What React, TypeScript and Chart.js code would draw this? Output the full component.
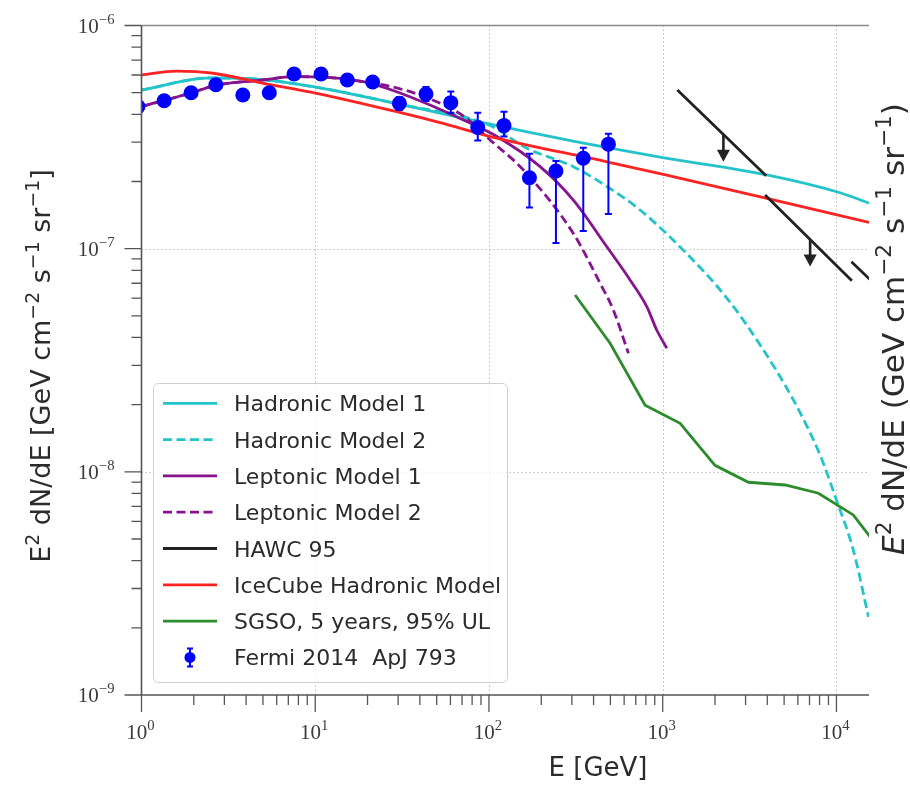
import { useEffect, useRef } from 'react';
import { Chart, registerables } from 'chart.js';

Chart.register(...registerables);

// Energies in GeV, fluxes as E^2 dN/dE in GeV cm^-2 s^-1 sr^-1

const hadronic1E = [1, 2.5, 4, 10, 30, 100, 300, 1000, 3970, 10500, 15400];
const hadronic1Flux = [5.14e-7, 5.82e-7, 5.79e-7, 5.3e-7, 4.45e-7, 3.62e-7, 3.04e-7, 2.56e-7, 2.14e-7, 1.78e-7, 1.6e-7];

const hadronic2E = [1, 2.5, 4, 10, 30, 100, 165, 306, 477, 741, 1310, 2340, 3640, 5650, 8050, 10000, 12500, 15300];
const hadronic2Flux = [5.14e-7, 5.82e-7, 5.79e-7, 5.3e-7, 4.45e-7, 3.58e-7, 2.82e-7, 2.33e-7, 1.9e-7, 1.49e-7, 9.87e-8, 6.01e-8, 3.7e-8, 2.1e-8, 1.19e-8, 7.48e-9, 4.47e-9, 2.24e-9];

const leptonic1E = [1, 1.9, 2.71, 5.03, 7.48, 12.2, 18.9, 29.4, 45.8, 71.2, 111, 197, 306, 477, 649, 810, 924, 1056];
const leptonic1Flux = [4.33e-7, 4.97e-7, 5.41e-7, 5.7e-7, 5.9e-7, 5.84e-7, 5.6e-7, 5.05e-7, 4.4e-7, 3.77e-7, 3.18e-7, 2.33e-7, 1.65e-7, 1.02e-7, 7.24e-8, 5.5e-8, 4.32e-8, 3.58e-8];

const leptonic2E = [1, 1.9, 2.71, 5.03, 7.48, 12.2, 18.9, 29.4, 45.8, 71.2, 101.5, 158, 306, 436, 520, 635];
const leptonic2Flux = [4.33e-7, 4.97e-7, 5.41e-7, 5.7e-7, 5.9e-7, 5.84e-7, 5.6e-7, 5.25e-7, 4.69e-7, 3.93e-7, 3.07e-7, 2.25e-7, 1.17e-7, 7.0e-8, 5.31e-8, 3.4e-8];

// HAWC limit segments; a null flux breaks the line between segments
const hawcE = [1215, 3938, 3900, 3886, 12270, 12250, 12200, 17850];
const hawcFlux = [5.14e-7, 2.12e-7, null, 1.74e-7, 7.19e-8, null, 8.74e-8, 6.57e-8];
const hawcUlE = [2236, 7058];
const hawcUlFrom = [3.27e-7, 1.1e-7];
const hawcUlTo = [2.45e-7, 8.31e-8];

const iceCubeE = [1, 1.59, 2.59, 5.03, 10.2, 29.4, 52.3, 101.5, 477, 1009, 3975, 15400];
const iceCubeFlux = [6.0e-7, 6.25e-7, 6.11e-7, 5.51e-7, 4.97e-7, 4.11e-7, 3.67e-7, 3.18e-7, 2.45e-7, 2.15e-7, 1.68e-7, 1.31e-7];

const sgsoE = [313, 498, 792, 1260, 2000, 3115, 5067, 7878, 12500, 15600];
const sgsoFlux = [6.2e-8, 3.77e-8, 1.99e-8, 1.65e-8, 1.07e-8, 8.98e-9, 8.73e-9, 8.02e-9, 6.41e-9, 5.13e-9];

const fermiE = [0.955, 1.35, 1.93, 2.68, 3.83, 5.44, 7.55, 10.8, 15.3, 21.4, 30.5, 43.4, 60.3, 86.2, 122, 171, 243, 349, 487];
const fermiFlux = [4.33e-7, 4.6e-7, 5.0e-7, 5.43e-7, 4.88e-7, 5.0e-7, 6.06e-7, 6.06e-7, 5.7e-7, 5.58e-7, 4.48e-7, 4.93e-7, 4.51e-7, 3.49e-7, 3.56e-7, 2.08e-7, 2.23e-7, 2.54e-7, 2.94e-7];
const fermiLow = [4.2e-7, 4.48e-7, 4.86e-7, 5.27e-7, 4.72e-7, 4.82e-7, 5.84e-7, 5.82e-7, 5.44e-7, 5.28e-7, 4.18e-7, 4.59e-7, 4.06e-7, 3.05e-7, 3.18e-7, 1.53e-7, 1.06e-7, 1.2e-7, 1.43e-7];
const fermiHigh = [4.46e-7, 4.72e-7, 5.14e-7, 5.59e-7, 5.04e-7, 5.18e-7, 6.28e-7, 6.3e-7, 5.96e-7, 5.88e-7, 4.78e-7, 5.3e-7, 5.06e-7, 4.06e-7, 4.11e-7, 2.66e-7, 2.47e-7, 2.83e-7, 3.27e-7];

const xDecades = [1, 10, 100, 1000, 10000];
const xTickExponents = ['0', '1', '2', '3', '4'];
const yDecades = [1e-9, 1e-8, 1e-7, 1e-6];
const yTickExponents = ['−9', '−8', '−7', '−6'];

const X_MIN = 1;
const X_MAX = 15400;

const SANS = '"DejaVu Sans", "Noto Sans", sans-serif';
const SERIF = '"Liberation Serif", "DejaVu Serif", serif';

const CYAN = '#22c4c9';
const PURPLE = '#87138f';
const BLACK = '#222222';
const RED = '#ff2222';
const GREEN = '#2a8c2a';
const BLUE = '#0000ff';

type Seg = { t: string; sup?: boolean; it?: boolean };

function segFont(seg: Seg, size: number, family: string) {
  const s = seg.sup ? size * 0.7 : size;
  return `${seg.it ? 'italic ' : ''}${s}px ${family}`;
}

function drawRich(ctx: CanvasRenderingContext2D, segs: Seg[], x: number, y: number, size: number, family: string, align: 'left' | 'center' | 'right') {
  let w = 0;
  for (const s of segs) {
    ctx.font = segFont(s, size, family);
    w += ctx.measureText(s.t).width;
  }
  let cx = align === 'center' ? x - w / 2 : align === 'right' ? x - w : x;
  ctx.textAlign = 'left';
  ctx.textBaseline = 'alphabetic';
  for (const s of segs) {
    ctx.font = segFont(s, size, family);
    ctx.fillText(s.t, cx, s.sup ? y - size * 0.42 : y);
    cx += ctx.measureText(s.t).width;
  }
}

function pts(xs: number[], ys: (number | null)[]) {
  return xs.map((x, i) => ({ x, y: ys[i] }));
}

const gridPlugin = {
  id: 'logGrid',
  beforeDatasetsDraw(chart: any) {
    const { ctx, chartArea: a } = chart;
    const xs = chart.scales.x;
    const ys = chart.scales.y;
    ctx.save();
    ctx.strokeStyle = '#bdbdbd';
    ctx.lineWidth = 1;
    ctx.setLineDash([1.5, 2.5]);
    ctx.beginPath();
    xDecades.forEach((d) => {
      const p = Math.round(xs.getPixelForValue(d)) + 0.5;
      if (p > a.left + 2 && p < a.right - 1) {
        ctx.moveTo(p, a.top);
        ctx.lineTo(p, a.bottom);
      }
    });
    yDecades.forEach((d) => {
      const p = Math.round(ys.getPixelForValue(d)) + 0.5;
      if (p > a.top + 2 && p < a.bottom - 2) {
        ctx.moveTo(a.left, p);
        ctx.lineTo(a.right, p);
      }
    });
    ctx.stroke();
    ctx.restore();
  },
};

const errorBarPlugin = {
  id: 'fermiErrorBars',
  beforeDatasetDraw(chart: any, args: any) {
    const ds = chart.data.datasets[args.index];
    if (ds.label !== 'Fermi 2014  ApJ 793') return;
    const { ctx, chartArea: a } = chart;
    const xs = chart.scales.x;
    const ys = chart.scales.y;
    ctx.save();
    ctx.beginPath();
    ctx.rect(a.left, a.top, a.right - a.left, a.bottom - a.top);
    ctx.clip();
    ctx.strokeStyle = BLUE;
    ctx.lineWidth = 2;
    fermiE.forEach((e, i) => {
      const px = xs.getPixelForValue(e);
      const pLo = ys.getPixelForValue(fermiLow[i]);
      const pHi = ys.getPixelForValue(fermiHigh[i]);
      ctx.beginPath();
      ctx.moveTo(px, pLo);
      ctx.lineTo(px, pHi);
      ctx.moveTo(px - 3.5, pLo);
      ctx.lineTo(px + 3.5, pLo);
      ctx.moveTo(px - 3.5, pHi);
      ctx.lineTo(px + 3.5, pHi);
      ctx.stroke();
    });
    ctx.restore();
  },
};

const arrowPlugin = {
  id: 'hawcArrows',
  afterDatasetsDraw(chart: any) {
    const { ctx } = chart;
    const xs = chart.scales.x;
    const ys = chart.scales.y;
    ctx.save();
    ctx.strokeStyle = BLACK;
    ctx.fillStyle = BLACK;
    ctx.lineWidth = 2.6;
    hawcUlE.forEach((e, i) => {
      const px = xs.getPixelForValue(e);
      const p0 = ys.getPixelForValue(hawcUlFrom[i]);
      const p1 = ys.getPixelForValue(hawcUlTo[i]);
      ctx.beginPath();
      ctx.moveTo(px, p0);
      ctx.lineTo(px, p1 - 6);
      ctx.stroke();
      ctx.beginPath();
      ctx.moveTo(px - 6.5, p1 - 12);
      ctx.lineTo(px + 6.5, p1 - 12);
      ctx.lineTo(px, p1);
      ctx.closePath();
      ctx.fill();
    });
    ctx.restore();
  },
};

const axesPlugin = {
  id: 'logAxes',
  afterDatasetsDraw(chart: any) {
    const { ctx, chartArea: a } = chart;
    const xs = chart.scales.x;
    const ys = chart.scales.y;
    ctx.save();
    // spines
    ctx.lineCap = 'butt';
    ctx.strokeStyle = '#8a8a8a';
    ctx.lineWidth = 1.6;
    ctx.beginPath();
    ctx.moveTo(a.left, a.top);
    ctx.lineTo(a.right, a.top);
    ctx.stroke();
    ctx.strokeStyle = '#555555';
    ctx.beginPath();
    ctx.moveTo(a.left, a.top);
    ctx.lineTo(a.left, a.bottom);
    ctx.lineTo(a.right, a.bottom);
    ctx.stroke();

    // ticks
    ctx.strokeStyle = '#555555';
    ctx.lineWidth = 1.3;
    ctx.beginPath();
    xDecades.forEach((d) => {
      const p = xs.getPixelForValue(d);
      ctx.moveTo(p, a.bottom);
      ctx.lineTo(p, a.bottom + 17);
      for (let k = 2; k <= 9; k++) {
        const v = k * d;
        if (v > X_MAX) break;
        const q = xs.getPixelForValue(v);
        ctx.moveTo(q, a.bottom);
        ctx.lineTo(q, a.bottom + 10);
      }
    });
    yDecades.forEach((d, idx) => {
      const p = ys.getPixelForValue(d);
      ctx.moveTo(a.left, p);
      ctx.lineTo(a.left - 17, p);
      if (idx < yDecades.length - 1) {
        for (let k = 2; k <= 9; k++) {
          const q = ys.getPixelForValue(k * d);
          ctx.moveTo(a.left, q);
          ctx.lineTo(a.left - 10, q);
        }
      }
    });
    ctx.stroke();

    // tick labels
    ctx.fillStyle = '#3a3a3a';
    xDecades.forEach((d, i) => {
      const p = xs.getPixelForValue(d);
      drawRich(ctx, [{ t: '10' }, { t: xTickExponents[i], sup: true }], p - 1, a.bottom + 44, 21, SERIF, 'center');
    });
    yDecades.forEach((d, i) => {
      const p = ys.getPixelForValue(d);
      drawRich(ctx, [{ t: '10' }, { t: yTickExponents[i], sup: true }], a.left - 27, p + 7, 21, SERIF, 'right');
    });

    // axis titles
    ctx.fillStyle = '#2b2b2b';
    drawRich(ctx, [{ t: 'E [GeV]' }], 598, 776, 26, SANS, 'center');

    ctx.save();
    ctx.translate(50, 366);
    ctx.rotate(-Math.PI / 2);
    drawRich(
      ctx,
      [
        { t: 'E' }, { t: '2', sup: true }, { t: ' dN/dE [GeV cm' }, { t: '−2', sup: true },
        { t: ' s' }, { t: '−1', sup: true }, { t: ' sr' }, { t: '−1', sup: true }, { t: ']' },
      ],
      0, 0, 27, SANS, 'center',
    );
    ctx.restore();

    ctx.save();
    ctx.translate(904, 329);
    ctx.rotate(-Math.PI / 2);
    drawRich(
      ctx,
      [
        { t: 'E', it: true }, { t: '2', sup: true }, { t: ' dN/dE (GeV cm' }, { t: '−2', sup: true },
        { t: ' s' }, { t: '−1', sup: true }, { t: ' sr' }, { t: '−1', sup: true }, { t: ')' },
      ],
      0, 0, 31, SANS, 'center',
    );
    ctx.restore();
    ctx.restore();
  },
};

const legendPlugin = {
  id: 'boxLegend',
  afterDraw(chart: any) {
    const { ctx } = chart;
    const left = 153.5;
    const top = 383.5;
    const w = 354;
    const h = 299;
    ctx.save();
    ctx.beginPath();
    ctx.roundRect(left, top, w, h, 5);
    ctx.fillStyle = 'rgba(255,255,255,0.82)';
    ctx.fill();
    ctx.strokeStyle = '#cfcfcf';
    ctx.lineWidth = 1;
    ctx.stroke();

    const rowStep = 36.3;
    chart.data.datasets.forEach((ds: any, i: number) => {
      const cy = 403.3 + i * rowStep;
      if (ds.showLine === false) {
        ctx.strokeStyle = ds.pointBackgroundColor;
        ctx.lineWidth = 2;
        ctx.setLineDash([]);
        ctx.beginPath();
        ctx.moveTo(190, cy - 9);
        ctx.lineTo(190, cy + 9);
        ctx.moveTo(187, cy - 9);
        ctx.lineTo(193, cy - 9);
        ctx.moveTo(187, cy + 9);
        ctx.lineTo(193, cy + 9);
        ctx.stroke();
        ctx.fillStyle = ds.pointBackgroundColor;
        ctx.beginPath();
        ctx.arc(190, cy, 5.5, 0, Math.PI * 2);
        ctx.fill();
      } else {
        ctx.strokeStyle = ds.borderColor;
        ctx.lineWidth = ds.borderWidth;
        ctx.setLineDash(ds.borderDash || []);
        ctx.beginPath();
        ctx.moveTo(163, cy);
        ctx.lineTo(217, cy);
        ctx.stroke();
        ctx.setLineDash([]);
      }
      ctx.fillStyle = '#2b2b2b';
      drawRich(ctx, [{ t: ds.label }], 234, cy + 8, 22, SANS, 'left');
    });
    ctx.restore();
  },
};

export default function App() {
  const canvasRef = useRef<HTMLCanvasElement | null>(null);

  useEffect(() => {
    const canvas = canvasRef.current;
    if (!canvas) return;
    const lineBase = {
      pointRadius: 0,
      borderWidth: 2.8,
      fill: false,
      clip: 0,
      cubicInterpolationMode: 'monotone' as const,
    };
    const chart = new Chart(canvas, {
      type: 'line',
      data: {
        datasets: [
          { ...lineBase, label: 'Hadronic Model 1', data: pts(hadronic1E, hadronic1Flux), borderColor: CYAN, order: 7 },
          { ...lineBase, label: 'Hadronic Model 2', data: pts(hadronic2E, hadronic2Flux), borderColor: CYAN, borderDash: [9, 4.5], order: 6 },
          { ...lineBase, label: 'Leptonic Model 1', data: pts(leptonic1E, leptonic1Flux), borderColor: PURPLE, order: 5 },
          { ...lineBase, label: 'Leptonic Model 2', data: pts(leptonic2E, leptonic2Flux), borderColor: PURPLE, borderDash: [9, 4.5], order: 4 },
          { ...lineBase, label: 'HAWC 95', data: pts(hawcE, hawcFlux), borderColor: BLACK, cubicInterpolationMode: 'default' as const, spanGaps: false, order: 1 },
          { ...lineBase, label: 'IceCube Hadronic Model', data: pts(iceCubeE, iceCubeFlux), borderColor: RED, order: 3 },
          { ...lineBase, label: 'SGSO, 5 years, 95% UL', data: pts(sgsoE, sgsoFlux), borderColor: GREEN, cubicInterpolationMode: 'default' as const, order: 2 },
          {
            label: 'Fermi 2014  ApJ 793',
            data: pts(fermiE, fermiFlux),
            showLine: false,
            pointRadius: 7.5,
            pointBorderWidth: 0,
            pointBackgroundColor: BLUE,
            borderColor: BLUE,
            clip: 0,
            order: 0,
          },
        ],
      } as any,
      options: {
        animation: false,
        responsive: false,
        events: [],
        layout: { padding: { left: 0, top: 25.5, right: 41, bottom: 0 } },
        plugins: {
          legend: { display: false },
          tooltip: { enabled: false },
          title: { display: false },
        },
        scales: {
          x: {
            type: 'logarithmic',
            min: X_MIN,
            max: X_MAX,
            ticks: { display: false },
            grid: { display: false, drawTicks: false },
            border: { display: false },
            afterFit: (s: any) => {
              s.height = 96;
            },
          },
          y: {
            type: 'logarithmic',
            min: 1e-9,
            max: 1e-6,
            ticks: { display: false },
            grid: { display: false, drawTicks: false },
            border: { display: false },
            afterFit: (s: any) => {
              s.width = 141.5;
            },
          },
        },
      } as any,
      plugins: [gridPlugin, errorBarPlugin, arrowPlugin, axesPlugin, legendPlugin],
    });
    return () => chart.destroy();
  }, []);

  return (
    <div style={{ position: 'fixed', left: 0, top: 0, width: 910, height: 791, background: '#ffffff' }}>
      <canvas ref={canvasRef} width={910} height={791} style={{ display: 'block' }} />
    </div>
  );
}
